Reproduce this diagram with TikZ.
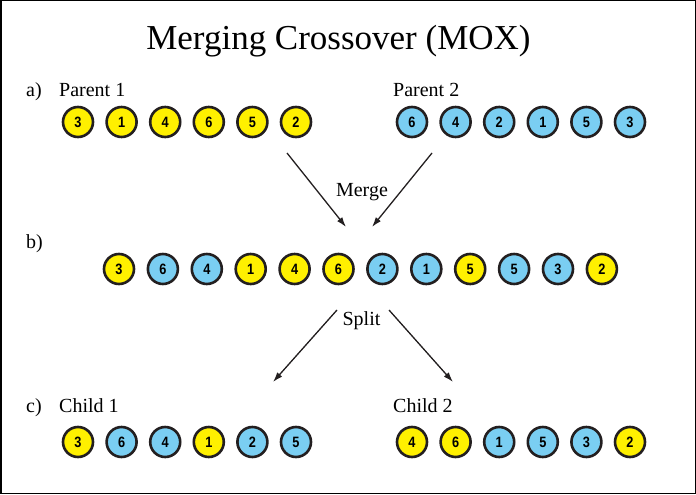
\documentclass[tikz,border=0pt]{standalone}
\usepackage{fontspec}
\setmainfont{Liberation Serif}
\newfontfamily\genefont[FakeStretch=0.85]{Liberation Sans}
\usetikzlibrary{arrows.meta}

\definecolor{geneyellow}{RGB}{255,240,0}
\definecolor{geneblue}{RGB}{122,206,242}
\definecolor{ringcol}{RGB}{35,31,32}

\tikzset{
  gene/.style={circle, draw=ringcol, line width=2.6pt, minimum size=30pt, inner sep=0pt,
    font=\genefont\bfseries\fontsize{15}{15}\selectfont},
  yel/.style={gene, fill=geneyellow},
  blu/.style={gene, fill=geneblue},
  lbl/.style={anchor=base west, inner sep=0pt, font=\fontsize{20}{20}\selectfont},
  opname/.style={anchor=base, inner sep=0pt, font=\fontsize{20}{20}\selectfont},
  flow/.style={line width=1.3pt, ringcol, -{Latex[length=10pt,width=6.5pt]}}
}

\begin{document}
\begin{tikzpicture}[x=1pt, y=-1pt]
\useasboundingbox (0,0) rectangle (696,495);
\draw[line width=1.5pt] (0.75,0.75) rectangle (695.25,493.6);

% title
\node[anchor=base, inner sep=0pt, font=\fontsize{35}{35}\selectfont] (title) at (338.5,50) {Merging Crossover (MOX)};

% a) parents
\node[lbl] (la) at (26,96) {a)};
\node[lbl] (p1) at (59,96) {Parent 1};
\node[lbl] (p2) at (393,96) {Parent 2};
\foreach \v [count=\i] in {3,1,4,6,5,2}
  \node[yel] (pa\i) at ({78+43.6*(\i-1)},122) {\v};
\foreach \v [count=\i] in {6,4,2,1,5,3}
  \node[blu] (pb\i) at ({412+43.6*(\i-1)},122) {\v};

% merge
\node[opname] (merge) at (362,196) {Merge};
\coordinate (m1s) at (287,153);
\coordinate (m1e) at (346,227);
\coordinate (m2s) at (432,153);
\coordinate (m2e) at (372,227);
\draw[flow] (m1s) -- (m1e);
\draw[flow] (m2s) -- (m2e);

% b) merged string
\node[lbl] (lb) at (26,248) {b)};
\foreach \v/\c [count=\i] in {3/yel,6/blu,4/blu,1/yel,4/yel,6/yel,2/blu,1/blu,5/yel,5/blu,3/blu,2/yel}
  \node[\c] (mg\i) at ({119+43.9*(\i-1)},269) {\v};

% split
\node[opname] (split) at (361.5,325) {Split};
\coordinate (s1s) at (337,310);
\coordinate (s1e) at (273,382);
\coordinate (s2s) at (389,310);
\coordinate (s2e) at (453,382);
\draw[flow] (s1s) -- (s1e);
\draw[flow] (s2s) -- (s2e);

% c) children
\node[lbl] (lc) at (26,412) {c)};
\node[lbl] (c1) at (59,412) {Child 1};
\node[lbl] (c2) at (393,412) {Child 2};
\foreach \v/\c [count=\i] in {3/yel,6/blu,4/blu,1/yel,2/blu,5/blu}
  \node[\c] (ca\i) at ({78+43.6*(\i-1)},442) {\v};
\foreach \v/\c [count=\i] in {4/yel,6/yel,1/blu,5/blu,3/blu,2/yel}
  \node[\c] (cb\i) at ({412+43.6*(\i-1)},442) {\v};
\end{tikzpicture}
\end{document}
